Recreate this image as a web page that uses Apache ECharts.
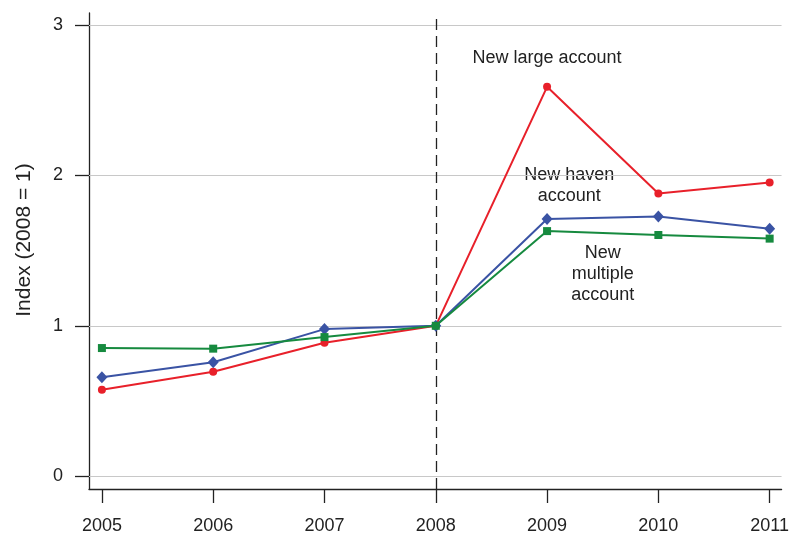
<!DOCTYPE html>
<html>
<head>
<meta charset="utf-8">
<script src="https://cdn.jsdelivr.net/npm/echarts@6/dist/echarts.min.js"></script>
<style>
  html, body { margin: 0; padding: 0; background: #fff; overflow: hidden; }
  #chart { width: 792px; height: 535px; }
</style>
</head>
<body>
<div id="chart"></div>
<script>
// Account-opening index by year, normalised so that 2008 = 1
var years = [2005, 2006, 2007, 2008, 2009, 2010, 2011];
var largeAccount = [0.575, 0.694, 0.887, 1.0, 2.59, 1.88, 1.953];
var havenAccount = [0.657, 0.758, 0.978, 1.0, 1.711, 1.727, 1.645];
var multipleAccount = [0.852, 0.848, 0.925, 1.0, 1.63, 1.604, 1.58];
var yTicks = [0, 1, 2, 3];
var breakYear = 2008;

// Text notes placed in data coordinates
var notes = [
  { text: 'New large account', x: 2009.0, y: 2.779 },
  { text: 'New haven\naccount', x: 2009.2, y: 1.93 },
  { text: 'New\nmultiple\naccount', x: 2009.5, y: 1.342 }
];

var FONT = 'Liberation Sans, Arial, Helvetica, sans-serif';
var INK = '#222222';

function pairs(vals) {
  return years.map(function (yr, i) { return [yr, vals[i]]; });
}

var chart = echarts.init(document.getElementById('chart'), null, { renderer: 'canvas', width: 792, height: 535 });

var option = {
  animation: false,
  backgroundColor: '#ffffff',
  grid: { left: 89, right: 5, top: 13, bottom: 42, containLabel: false },
  xAxis: {
    type: 'value',
    min: 2004.884,
    max: 2011.107,
    axisLine: { show: true, onZero: false, lineStyle: { color: INK, width: 1.3 } },
    axisTick: { show: true, customValues: years, length: 14, lineStyle: { color: INK, width: 1.3 } },
    axisLabel: {
      customValues: years, margin: 28, color: INK, fontFamily: FONT, fontSize: 18,
      formatter: function (v) { return String(v); }
    },
    splitLine: { show: false }
  },
  yAxis: {
    type: 'value',
    min: -0.0857,
    max: 3.081,
    axisLine: { show: true, onZero: false, lineStyle: { color: INK, width: 1.3 } },
    axisTick: { show: true, customValues: yTicks, length: 14, lineStyle: { color: INK, width: 1.3 } },
    axisLabel: {
      customValues: yTicks, margin: 26, color: INK, fontFamily: FONT, fontSize: 18,
      formatter: function (v) { return String(v); }
    },
    splitLine: { show: false }
  },
  series: [
    {
      name: 'New large account',
      type: 'line',
      data: pairs(largeAccount),
      color: '#e8202a',
      lineStyle: { width: 2, color: '#e8202a' },
      symbol: 'circle',
      symbolSize: 8,
      itemStyle: { color: '#e8202a' },
      z: 3,
      // horizontal reference lines at each y tick
      markLine: {
        silent: true,
        symbol: ['none', 'none'],
        label: { show: false },
        lineStyle: { color: '#c8c8c8', width: 1.2, type: 'solid' },
        data: yTicks.map(function (t) { return { yAxis: t }; }),
        z: 1
      }
    },
    {
      name: 'New haven account',
      type: 'line',
      data: pairs(havenAccount),
      lineStyle: { width: 2, color: '#3a53a4' },
      symbol: 'diamond',
      symbolSize: [11, 12],
      itemStyle: { color: '#3a53a4' },
      z: 4
    },
    {
      name: 'New multiple account',
      type: 'line',
      data: pairs(multipleAccount),
      lineStyle: { width: 2, color: '#168a3f' },
      symbol: 'rect',
      symbolSize: 8,
      itemStyle: { color: '#168a3f' },
      z: 5,
      // dashed marker at the break year
      markLine: {
        silent: true,
        symbol: ['none', 'none'],
        label: { show: false },
        lineStyle: { color: INK, width: 1.3, type: [11, 6] },
        data: [{ xAxis: breakYear }],
        z: 2
      }
    }
  ]
};

chart.setOption(option);

// Axis title and text notes
var graphics = [{
  type: 'text',
  x: 24,
  y: 240,
  rotation: Math.PI / 2,
  style: {
    text: 'Index (2008 = 1)',
    fill: INK,
    font: '21px ' + FONT,
    align: 'center',
    verticalAlign: 'middle'
  }
}];
notes.forEach(function (n) {
  var p = chart.convertToPixel({ gridIndex: 0 }, [n.x, n.y]);
  graphics.push({
    type: 'text',
    x: p[0],
    y: p[1],
    style: {
      text: n.text,
      fill: INK,
      font: '18px ' + FONT,
      align: 'center',
      verticalAlign: 'middle',
      lineHeight: 21
    }
  });
});
chart.setOption({ graphic: graphics });
</script>
</body>
</html>
